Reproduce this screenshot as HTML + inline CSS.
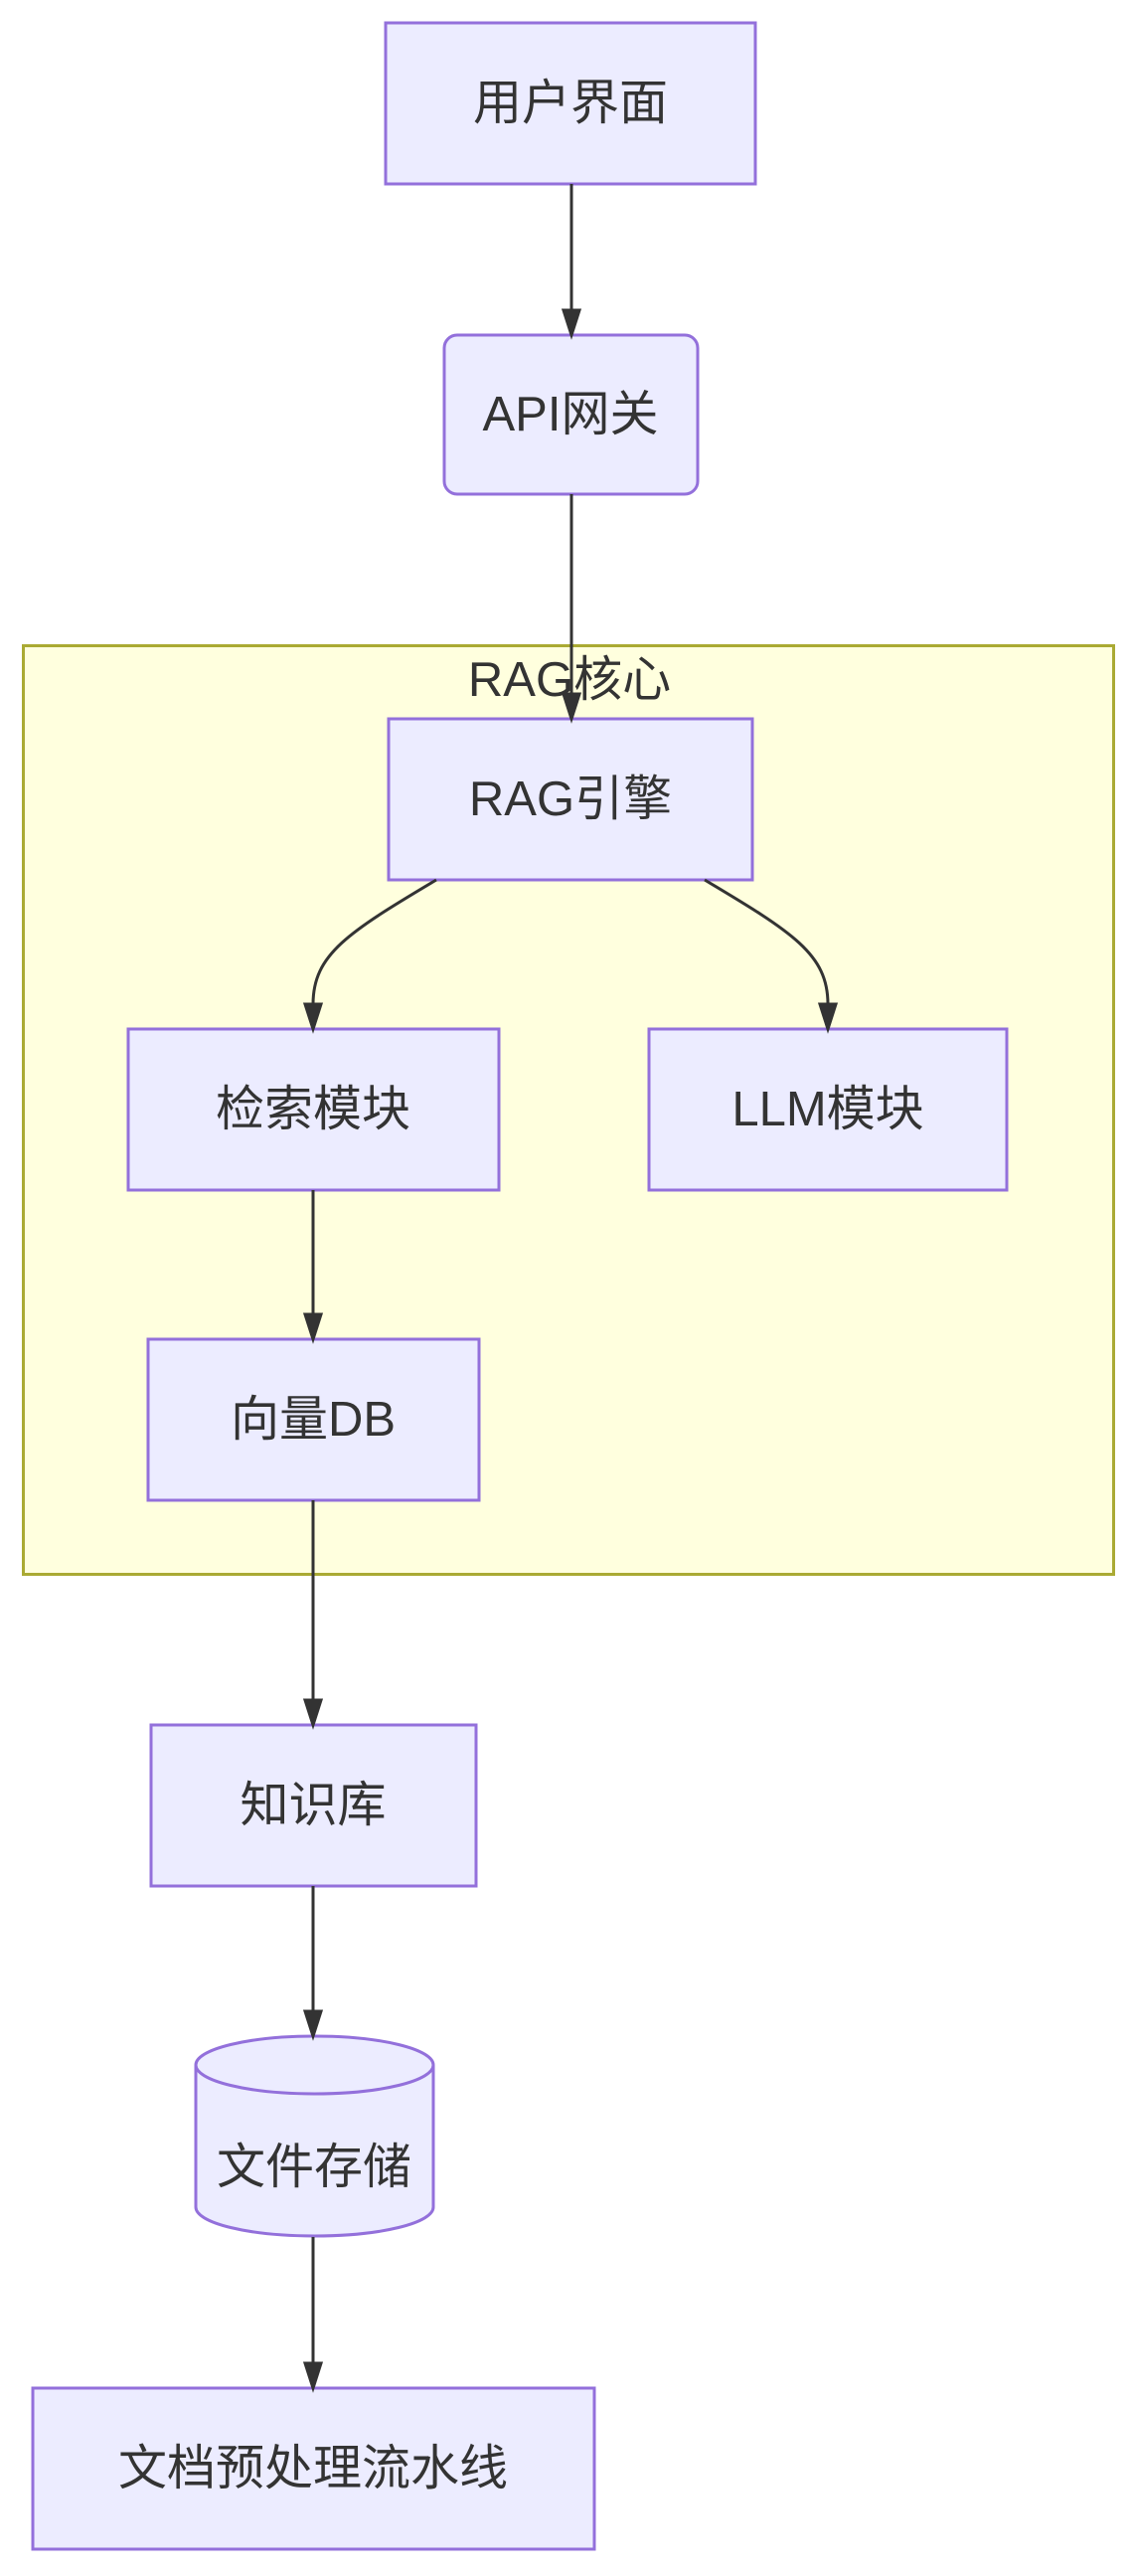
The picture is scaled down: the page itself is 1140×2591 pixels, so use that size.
<!DOCTYPE html>
<html><head><meta charset="utf-8"><style>
html,body{margin:0;padding:0;background:#fff;}
svg text{font-family:"Liberation Sans","Noto Sans CJK SC",sans-serif;font-size:49px;fill:#333;text-anchor:middle;dominant-baseline:central;}
</style></head><body>
<svg width="1140" height="2586" viewBox="0 0 1140 2586" xmlns="http://www.w3.org/2000/svg">
<rect x="23.5" y="649.5" width="1097" height="934" fill="#ffffde" stroke="#aaaa33" stroke-width="3"/>
<text x="573" y="684">RAG核心</text>
<g fill="#ececff" stroke="#9370db" stroke-width="3">
<rect x="388" y="23" width="372" height="162"/>
<rect x="447" y="337" width="255" height="160" rx="13"/>
<rect x="391" y="723" width="366" height="162"/>
<rect x="129" y="1035" width="373" height="162"/>
<rect x="653" y="1035" width="360" height="162"/>
<rect x="149" y="1347" width="333" height="162"/>
<rect x="152" y="1735" width="327" height="162"/>
<rect x="33" y="2402" width="565" height="162"/>
<path d="M197,2077 A119.5,29 0 0 1 436,2077 L436,2220 A119.5,29 0 0 1 197,2220 Z"/>
<path d="M197,2077 A119.5,29 0 0 0 436,2077" fill="none"/>
</g>
<g stroke="#333" stroke-width="3" fill="none">
<path d="M575,185 L575,312"/><path d="M567,312 L583,312 L575,337 Z" fill="#333"/>
<path d="M575,497 L575,698"/><path d="M567,698 L583,698 L575,723 Z" fill="#333"/>
<path d="M439,885 C350,938 315,960 315,1010"/><path d="M307,1010 L323,1010 L315,1035 Z" fill="#333"/>
<path d="M709,885 C798,938 833,960 833,1010"/><path d="M825,1010 L841,1010 L833,1035 Z" fill="#333"/>
<path d="M315,1197 L315,1322"/><path d="M307,1322 L323,1322 L315,1347 Z" fill="#333"/>
<path d="M315,1509 L315,1710"/><path d="M307,1710 L323,1710 L315,1735 Z" fill="#333"/>
<path d="M315,1897 L315,2023"/><path d="M307,2023 L323,2023 L315,2048 Z" fill="#333"/>
<path d="M315,2250 L315,2377"/><path d="M307,2377 L323,2377 L315,2402 Z" fill="#333"/>
</g>
<text x="574" y="104">用户界面</text>
<text x="574" y="417">API网关</text>
<text x="574" y="804">RAG引擎</text>
<text x="315" y="1116">检索模块</text>
<text x="833" y="1116">LLM模块</text>
<text x="315" y="1428">向量DB</text>
<text x="315" y="1816">知识库</text>
<text x="316" y="2180">文件存储</text>
<text x="315" y="2483">文档预处理流水线</text>
</svg>
</body></html>
